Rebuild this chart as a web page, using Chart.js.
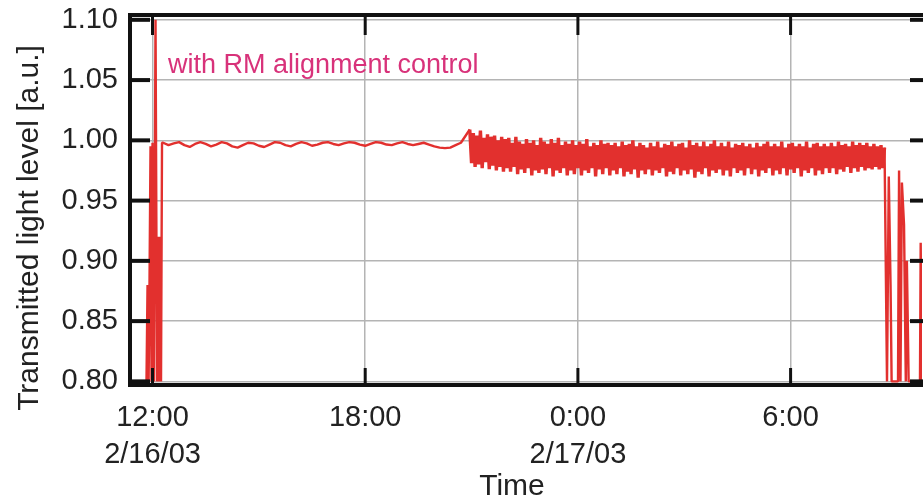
<!DOCTYPE html>
<html>
<head>
<meta charset="utf-8">
<script src="https://cdn.jsdelivr.net/npm/chart.js@4/dist/chart.umd.min.js"></script>
<style>
  html, body { margin: 0; padding: 0; background: #fff; overflow: hidden; }
  #wrap { width: 923px; height: 498px; }
</style>
</head>
<body>
<div id="wrap"><canvas id="lightChart" width="923" height="498"></canvas></div>
<script>
// x values are hours since 12:00 on 2/16/03
var xMin = -0.635, xMax = 21.707;
var yTicks = [0.80, 0.85, 0.90, 0.95, 1.00, 1.05, 1.10];
var xTickHours = [0, 6, 12, 18];
var xTickLabels = [['12:00', '2/16/03'], ['18:00'], ['0:00', '2/17/03'], ['6:00']];

// start-up transient
var startHours  = [-0.17, -0.14, -0.11, -0.085, -0.056, -0.028, 0.0, 0.04, 0.085, 0.127, 0.155, 0.183, 0.21, 0.24, 0.268];
var startLevels = [0.80, 0.88, 0.80, 0.88, 0.995, 0.80, 0.998, 0.80, 1.10, 0.80, 0.92, 0.80, 0.92, 0.80, 0.998];

// quiet part, sampled every 0.15 h
var steadyStart = 0.30, steadyStep = 0.15;
var steadyLevels = [
    0.998, 0.996, 0.9975, 0.9985, 0.996, 0.9945, 0.997, 0.9985, 0.997, 0.995,
    0.9965, 0.9985, 0.9975, 0.995, 0.994, 0.996, 0.998, 0.9975, 0.9955, 0.9945,
    0.9965, 0.9985, 0.998, 0.996, 0.995, 0.997, 0.9985, 0.9975, 0.9955, 0.9965,
    0.998, 0.9985, 0.997, 0.996, 0.9975, 0.9985, 0.998, 0.9965, 0.9955, 0.997,
    0.9985, 0.998, 0.9965, 0.996, 0.9975, 0.9985, 0.997, 0.996, 0.997, 0.998,
    0.9965, 0.995, 0.994, 0.9935, 0.994, 0.996, 0.998
];

// noisy part, sampled every 0.05 h
var noiseStart = 8.95, noiseStep = 0.05;
var noiseLevels = [
    1.009, 0.981, 1.006, 0.978, 1.004, 0.980, 1.008, 0.977, 1.002, 0.982, 1.005, 0.976, 1.003, 0.979, 1.004, 0.975, 1.000, 0.978, 1.003, 0.974, 1.001,
    0.977, 1.002, 0.974, 0.998, 0.978, 1.003, 0.972, 0.999, 0.976, 0.997, 0.973, 1.001, 0.977, 0.998, 0.971, 1.000, 0.975, 0.996, 0.973, 1.002,
    0.976, 0.999, 0.972, 0.997, 0.977, 1.001, 0.970, 0.998, 0.975, 1.002, 0.973, 0.996, 0.977, 0.999, 0.971, 0.997, 0.975, 1.000, 0.972, 0.996,
    0.977, 0.999, 0.971, 0.997, 0.975, 1.001, 0.973, 0.995, 0.977, 0.998, 0.970, 0.996, 0.976, 1.000, 0.972, 0.997, 0.977, 0.998, 0.971, 0.996,
    0.975, 0.998, 0.972, 0.995, 0.977, 0.999, 0.970, 0.996, 0.974, 0.997, 0.972, 1.000, 0.976, 0.995, 0.969, 0.998, 0.975, 0.996, 0.972, 0.994,
    0.976, 0.998, 0.971, 0.995, 0.975, 0.999, 0.973, 0.994, 0.977, 0.997, 0.970, 0.996, 0.974, 0.999, 0.972, 0.995, 0.977, 0.997, 0.971, 0.998,
    0.975, 0.994, 0.972, 1.000, 0.976, 0.996, 0.969, 0.998, 0.974, 0.995, 0.972, 0.999, 0.977, 0.995, 0.970, 0.997, 0.975, 1.000, 0.973, 0.995,
    0.976, 0.998, 0.971, 0.995, 0.975, 0.999, 0.970, 0.994, 0.977, 0.997, 0.973, 0.996, 0.975, 0.998, 0.971, 0.995, 0.977, 0.997, 0.972, 0.994,
    0.976, 0.998, 0.970, 0.995, 0.975, 0.997, 0.973, 0.999, 0.977, 0.995, 0.971, 0.997, 0.975, 0.995, 0.972, 0.999, 0.977, 0.994, 0.971, 0.997,
    0.976, 0.998, 0.973, 0.995, 0.977, 0.997, 0.970, 0.995, 0.975, 0.999, 0.973, 0.994, 0.977, 0.997, 0.971, 0.998, 0.975, 0.995, 0.972, 0.997,
    0.977, 0.995, 0.973, 0.998, 0.977, 0.995, 0.972, 0.999, 0.976, 0.996, 0.974, 0.997, 0.978, 0.995, 0.973, 0.999, 0.977, 0.996, 0.974, 0.998,
    0.978, 0.996, 0.975, 0.998, 0.977, 0.995, 0.976, 0.997, 0.978, 0.995, 0.976, 0.996, 0.977, 0.994
];

// dropouts at the end
var endHours  = [20.72, 20.77, 20.82, 20.85, 21.03, 21.06, 21.10, 21.14, 21.20, 21.25, 21.28, 21.33, 21.65, 21.67, 21.70];
var endLevels = [0.80, 0.97, 0.88, 0.80, 0.80, 0.975, 0.80, 0.965, 0.93, 0.80, 0.90, 0.80, 0.80, 0.915, 0.80];

var annotation = 'with RM alignment control';
var yTitle = 'Transmitted light level [a.u.]';
var xTitle = 'Time';

function toPoints(hours, levels) {
    return hours.map(function(h, i) { return { x: h, y: levels[i] }; });
}

function sampledPoints(start, step, levels) {
    return levels.map(function(v, i) { return { x: start + i * step, y: v }; });
}

var points = [].concat(
    toPoints(startHours, startLevels),
    sampledPoints(steadyStart, steadyStep, steadyLevels),
    sampledPoints(noiseStart, noiseStep, noiseLevels),
    toPoints(endHours, endLevels)
);

var noiseEnd = noiseStart + (noiseLevels.length - 1) * noiseStep;

var fontFamily = "'Liberation Sans', Arial, sans-serif";

// thick frame, inward tick marks and the texts
var framePlugin = {
    id: 'frame',
    afterDatasetsDraw: function(chart) {
        var ctx = chart.ctx, a = chart.chartArea;
        var xs = chart.scales.x, ys = chart.scales.y;
        function seg(x1, y1, x2, y2) {
            ctx.beginPath(); ctx.moveTo(x1, y1); ctx.lineTo(x2, y2); ctx.stroke();
        }
        ctx.save();
        ctx.strokeStyle = '#111';
        ctx.lineCap = 'butt';
        ctx.lineWidth = 4;
        yTicks.forEach(function(v) {
            var y = ys.getPixelForValue(v);
            seg(a.left, y, a.left + 20, y);
            seg(a.right - 12, y, a.right + 2, y);
        });
        ctx.lineWidth = 3;
        xTickHours.forEach(function(h) {
            var x = xs.getPixelForValue(h);
            seg(x, a.bottom, x, a.bottom - 17);
            seg(x, a.top, x, a.top + 20);
        });
        ctx.lineWidth = 4;
        seg(a.left, a.top, a.right + 2, a.top);
        seg(a.left, a.top - 2, a.left, a.bottom + 2);
        seg(a.left - 2, a.bottom, a.right + 2, a.bottom);

        ctx.fillStyle = '#d8327a';
        ctx.font = '27px ' + fontFamily;
        ctx.textAlign = 'left';
        ctx.textBaseline = 'alphabetic';
        ctx.fillText(annotation, 168, 73);

        ctx.fillStyle = '#222';
        ctx.font = '30px ' + fontFamily;
        ctx.textAlign = 'center';
        ctx.fillText(xTitle, 512, 495);

        ctx.translate(38, 228);
        ctx.rotate(-Math.PI / 2);
        ctx.fillText(yTitle, 0, 0);
        ctx.restore();
    }
};

function initChart() {
    var ctx = document.getElementById('lightChart').getContext('2d');
    new Chart(ctx, {
        type: 'line',
        data: {
            datasets: [{
                data: points,
                borderColor: '#e2302e',
                borderWidth: 2.4,
                borderJoinStyle: 'bevel',
                pointRadius: 0,
                tension: 0,
                fill: false,
                segment: {
                    // the noisy stretch is drawn heavier so it reads as a solid band
                    borderWidth: function(c) {
                        var x = c.p0.parsed.x;
                        return (x >= noiseStart && x < noiseEnd) ? 3.4 : 2.4;
                    }
                }
            }]
        },
        options: {
            responsive: false,
            animation: false,
            layout: { padding: { top: 15, right: 1, left: 0, bottom: 0 } },
            plugins: {
                legend: { display: false },
                tooltip: { enabled: false }
            },
            scales: {
                x: {
                    type: 'linear',
                    min: xMin,
                    max: xMax,
                    afterBuildTicks: function(scale) {
                        scale.ticks = xTickHours.map(function(h) { return { value: h }; });
                    },
                    afterFit: function(scale) {
                        scale.height = 113;
                        scale.paddingLeft = 0;
                        scale.paddingRight = 0;
                    },
                    ticks: {
                        autoSkip: false,
                        maxRotation: 0,
                        padding: 14,
                        color: '#222',
                        font: { family: fontFamily, size: 29, lineHeight: 1.28 },
                        callback: function(value) {
                            var i = xTickHours.indexOf(value);
                            return i >= 0 ? xTickLabels[i] : '';
                        }
                    },
                    grid: { color: '#b4b4b4', lineWidth: 1.5, drawTicks: false },
                    border: { display: false }
                },
                y: {
                    min: 0.797,
                    max: 1.104,
                    afterBuildTicks: function(scale) {
                        scale.ticks = yTicks.map(function(v) { return { value: v }; });
                    },
                    afterFit: function(scale) {
                        scale.width = 130;
                        scale.paddingTop = 0;
                        scale.paddingBottom = 0;
                    },
                    ticks: {
                        padding: 12,
                        color: '#222',
                        font: { family: fontFamily, size: 29 },
                        callback: function(value) { return value.toFixed(2); }
                    },
                    grid: { color: '#b4b4b4', lineWidth: 1.5, drawTicks: false },
                    border: { display: false }
                }
            }
        },
        plugins: [framePlugin]
    });
}

initChart();
</script>
</body>
</html>
